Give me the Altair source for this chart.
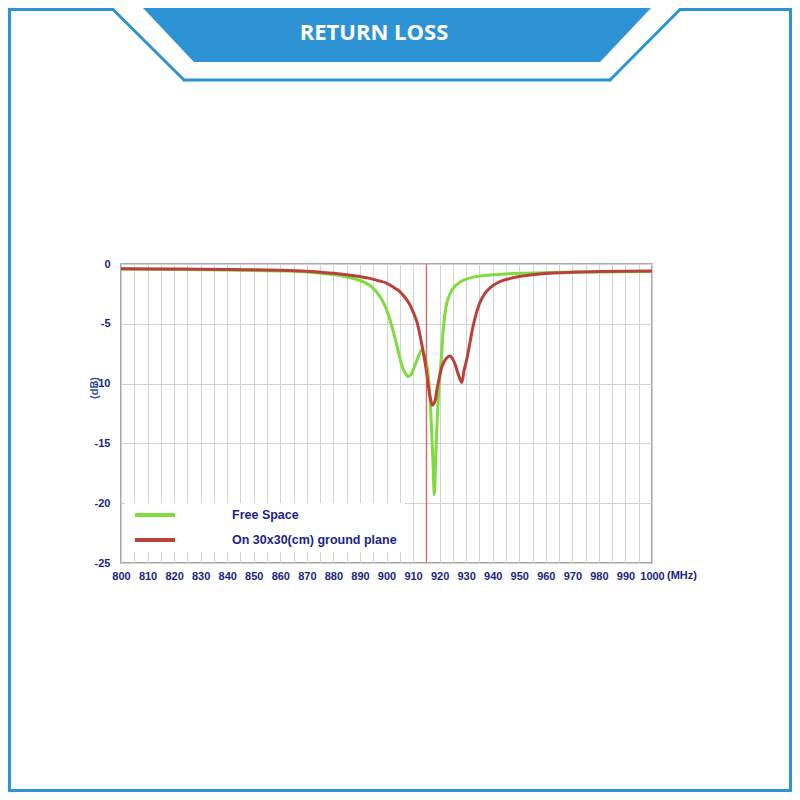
import altair as alt
import pandas as pd

# ---------------- data ----------------
title_text = "RETURN LOSS"
series_names = ["Free Space", "On 30x30(cm) ground plane"]
series_colors = ["#7EDC3C", "#B9413B"]

green_freq = [800, 820, 840, 860, 870, 880, 885, 890, 893.8, 897.5, 900, 902, 904,
              905.7, 907, 908.2, 909, 910, 911, 912, 913.2, 914.5, 915.3, 916, 916.8,
              917.5, 918, 918.5, 919.2, 920, 920.8, 921.4, 922.7, 924.6, 927.7,
              932.7, 939, 950, 960, 980, 1000]
green_db = [-0.42, -0.45, -0.5, -0.58, -0.66, -0.88, -1.08, -1.38, -1.8, -2.7, -3.8,
            -5.2, -6.9, -8.4, -9.1, -9.4, -9.3, -8.9, -8.3, -7.75, -7.2, -7.75, -8.6,
            -10.0, -13.0, -16.5, -19.3, -16.5, -12.5, -9.6, -7.4, -5.4, -3.3, -2.2,
            -1.5, -1.1, -0.92, -0.78, -0.72, -0.66, -0.62]

red_freq = [800, 820, 840, 860, 870, 880, 885, 890, 893.8, 897, 900, 903, 905, 907,
            908.8, 910, 911.4, 913.2, 915, 916.4, 917.3, 918.2, 919, 920, 921, 922.5,
            923.9, 925.5, 927, 928.3, 929.2, 930.2, 931.4, 932.7, 934, 935.2, 937.1,
            939, 942, 945.3, 950, 955, 960, 970, 980, 1000]
red_db = [-0.4, -0.42, -0.46, -0.52, -0.6, -0.78, -0.9, -1.05, -1.2, -1.4, -1.6,
          -2.0, -2.3, -2.8, -3.4, -4.0, -4.8, -6.6, -8.9, -11.1, -11.8, -11.5, -10.5,
          -9.4, -8.5, -7.9, -7.7, -8.2, -9.2, -9.9, -8.9, -8.0, -6.6, -5.1, -4.0,
          -3.2, -2.45, -2.0, -1.55, -1.28, -1.05, -0.9, -0.8, -0.7, -0.63, -0.58]

marker_freq = [915]
x_grid_values = list(range(800, 1001, 5))
y_tick_values = [-25, -20, -15, -10, -5, 0]

# ---------------- styles ----------------
BLUE = "#2E93D4"
NAVY = "#1B1F8C"
FONT = "Liberation Sans"
W, H = 531, 299
PAD_L, PAD_T = 113, 256
TOTAL = 784

df = pd.concat([
    pd.DataFrame({"freq": green_freq, "db": green_db, "series": series_names[0]}),
    pd.DataFrame({"freq": red_freq, "db": red_db, "series": series_names[1]}),
])

x_scale = alt.Scale(domain=[800, 1000], nice=False, zero=False)
y_scale = alt.Scale(domain=[-25, 0], nice=False)

x_axis = alt.Axis(values=x_grid_values, ticks=False, title=None,
                  labelExpr="datum.value % 10 == 0 ? '' + datum.value : ''",
                  labelFont=FONT, labelFontSize=11, labelFontWeight="bold",
                  labelColor=NAVY, labelPadding=7, domain=False,
                  gridColor="#D2D2D2", gridWidth=1, labelFlush=False,
                  labelOverlap=False)
y_axis = alt.Axis(values=y_tick_values, ticks=False, title=None,
                  labelExpr="'' + datum.value",
                  labelFont=FONT, labelFontSize=11, labelFontWeight="bold",
                  labelColor=NAVY, labelPadding=11, domain=False,
                  gridColor="#D2D2D2", gridWidth=1)

lines = alt.Chart(df).mark_line(strokeWidth=3, interpolate="catmull-rom").encode(
    x=alt.X("freq:Q", scale=x_scale, axis=x_axis),
    y=alt.Y("db:Q", scale=y_scale, axis=y_axis),
    color=alt.Color("series:N", scale=alt.Scale(domain=series_names, range=series_colors),
                    legend=None),
    order=alt.Order("series:N", sort="descending"),
)

marker = alt.Chart(pd.DataFrame({"freq": marker_freq})).mark_rule(
    color="#FF3B3B", strokeWidth=1
).encode(x=alt.X("freq:Q", scale=x_scale, axis=x_axis))

# legend box (inside plot, bottom-left)
legend_box = alt.Chart(pd.DataFrame({"a": [0]})).mark_rect(fill="white").encode(
    x=alt.value(4), x2=alt.value(284), y=alt.value(239), y2=alt.value(288))
leg_green = alt.Chart(pd.DataFrame({"a": [0]})).mark_rule(
    color=series_colors[0], strokeWidth=4).encode(
    x=alt.value(14), x2=alt.value(54), y=alt.value(251), y2=alt.value(251))
leg_red = alt.Chart(pd.DataFrame({"a": [0]})).mark_rule(
    color=series_colors[1], strokeWidth=4).encode(
    x=alt.value(14), x2=alt.value(54), y=alt.value(276), y2=alt.value(276))
leg_t1 = alt.Chart(pd.DataFrame({"t": [series_names[0]]})).mark_text(
    align="left", baseline="middle", font=FONT, fontSize=12.5, fontWeight="bold",
    color=NAVY).encode(text="t:N", x=alt.value(111), y=alt.value(251))
leg_t2 = alt.Chart(pd.DataFrame({"t": [series_names[1]]})).mark_text(
    align="left", baseline="middle", font=FONT, fontSize=12.5, fontWeight="bold",
    color=NAVY).encode(text="t:N", x=alt.value(111), y=alt.value(276))

# axis extras
mhz = alt.Chart(pd.DataFrame({"t": ["(MHz)"]})).mark_text(
    align="left", baseline="middle", font=FONT, fontSize=11, fontWeight="bold",
    color=NAVY).encode(text="t:N", x=alt.value(546), y=alt.value(312))
db_title = alt.Chart(pd.DataFrame({"t": ["(dB)"]})).mark_text(
    align="center", baseline="middle", font=FONT, fontSize=11, fontWeight="bold",
    color="#3454A4", angle=270).encode(text="t:N", x=alt.value(-26), y=alt.value(124))

# decorative frame and banner (pixel positions relative to plot origin)
def seg(x1, y1, x2, y2, w=3):
    return alt.Chart(pd.DataFrame({"a": [0]})).mark_rule(
        color=BLUE, strokeWidth=w, strokeCap="round").encode(
        x=alt.value(x1 - 121), y=alt.value(y1 - 264),
        x2=alt.value(x2 - 121), y2=alt.value(y2 - 264))

frame = [
    seg(9.5, 9, 9.5, 790.5), seg(790.5, 9, 790.5, 790.5), seg(9.5, 790.5, 790.5, 790.5),
    seg(9.5, 9.5, 113, 9.5), seg(113, 9.5, 184, 80), seg(184, 80, 610, 80),
    seg(610, 80, 680, 9.5), seg(680, 9.5, 790.5, 9.5),
]

banner = alt.Chart(pd.DataFrame({"a": [0]})).mark_point(
    shape="M-0.977,-0.104L0.977,-0.104L0.781,0.104L-0.781,0.104Z",
    filled=True, fill=BLUE, opacity=1, strokeWidth=0, size=270400).encode(
    x=alt.value(397 - 121), y=alt.value(35 - 264))

title = alt.Chart(pd.DataFrame({"t": [title_text]})).mark_text(
    align="center", baseline="middle", font="Open Sans", fontSize=22,
    fontWeight="bold", color="white").encode(
    text="t:N", x=alt.value(374 - 121), y=alt.value(33 - 264))

chart = alt.layer(
    lines, marker, legend_box, leg_green, leg_red, leg_t1, leg_t2, mhz, db_title,
    *frame, banner, title
).properties(
    width=W, height=H,
    autosize=alt.AutoSizeParams(type="none"),
    padding={"left": PAD_L, "top": PAD_T, "right": TOTAL - PAD_L - W,
             "bottom": TOTAL - PAD_T - H},
    background="white",
).configure_view(stroke="#8C8C8C", strokeWidth=1.5)

chart.save("out.html", embed_options={"renderer": "svg", "actions": False})
